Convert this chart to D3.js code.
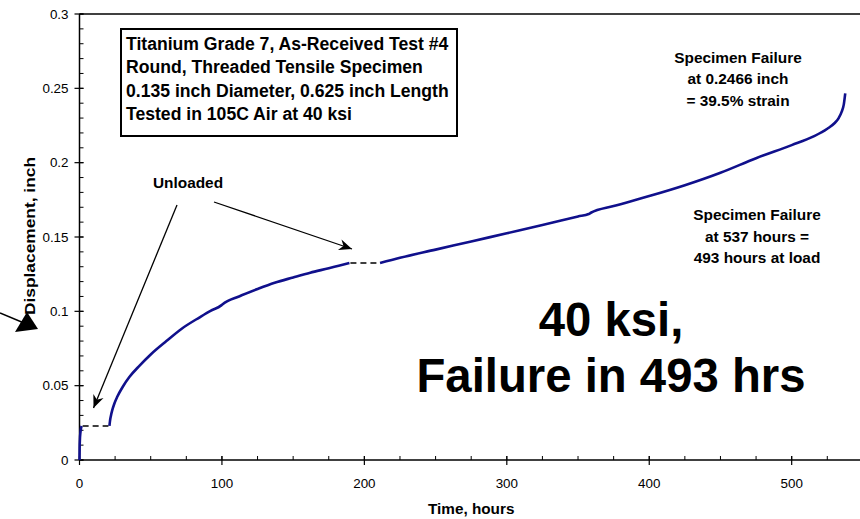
<!DOCTYPE html>
<html>
<head>
<meta charset="utf-8">
<script src="https://cdn.jsdelivr.net/npm/d3@7"></script>
<style>
  body { margin: 0; background: #fff; }
  svg { display: block; }
  text { font-family: "Liberation Sans", Arial, Helvetica, sans-serif; fill: #000; }
</style>
</head>
<body>
<svg id="chart" width="860" height="519"></svg>
<script>
// Creep test record: elapsed time (hours) vs. specimen displacement (inch).
// null marks the unloaded intervals, where the record is bridged by dashes.
const timeHours = [
  0, 0.1, 0.3, 0.6, 1.0, 1.5,
  null,
  21, 21.4, 22, 23, 24.5, 26.5, 30.4, 35, 42.2, 50, 61, 72, 84.4, 92, 99.5,
  100.5, 112, 125, 137, 150, 162, 175, 182, 189.5,
  null,
  211, 225, 250, 275, 300, 325, 350, 357.5,
  359, 375, 400, 425, 450, 475, 500, 515, 525, 530, 533, 535, 536.6, 537.6
];
const displacementIn = [
  0, 0.008, 0.014, 0.018, 0.021, 0.0229,
  null,
  0.0229, 0.0262, 0.0295, 0.0335, 0.0380, 0.0425, 0.0493, 0.0558, 0.0635, 0.0710, 0.0800, 0.0885, 0.0960, 0.1003, 0.1040,
  0.1048, 0.1100, 0.1150, 0.1192, 0.1228, 0.1260, 0.1290, 0.1307, 0.1325,
  null,
  0.1325, 0.1360, 0.1415, 0.1470, 0.1525, 0.1580, 0.1638, 0.1655,
  0.1663, 0.1708, 0.1775, 0.1848, 0.1932, 0.2030, 0.2118, 0.2175, 0.2228, 0.2265, 0.2300, 0.2340, 0.2392, 0.2466
];

// Unloaded intervals (start hour, end hour, held displacement)
const unloadStart = [1.5, 189.5];
const unloadEnd   = [21, 211];
const unloadDisp  = [0.0229, 0.1325];

// Axis ticks
const xMajorTicks = [0, 100, 200, 300, 400, 500];
const xMinorTicks = d3.range(0, 551, 25);
const yMajorTicks = [0, 0.05, 0.1, 0.15, 0.2, 0.25, 0.3];
const yMinorTicks = d3.range(0, 31).map(i => i / 100);

// Text
const infoLines = [
  "Titanium Grade 7, As-Received Test #4",
  "Round, Threaded Tensile Specimen",
  "0.135 inch Diameter, 0.625 inch Length",
  "Tested in 105C Air at 40 ksi"
];
const failDispLines = ["Specimen Failure", "at 0.2466 inch", "= 39.5% strain"];
const failTimeLines = ["Specimen Failure", "at 537 hours =", "493 hours at load"];
const headlineLines = ["40 ksi,", "Failure in 493 hrs"];

const svg = d3.select("#chart");

const x = d3.scaleLinear().domain([0, 550]).range([79.5, 862.9]);
const y = d3.scaleLinear().domain([0, 0.3]).range([460, 14]);

// --- frame: top border, y axis, x axis
svg.append("line").attr("x1", x(0)).attr("x2", x(550)).attr("y1", y(0.3)).attr("y2", y(0.3))
  .attr("stroke", "#000").attr("stroke-width", 1.5);
svg.append("line").attr("x1", x(0)).attr("x2", x(0)).attr("y1", y(0)).attr("y2", y(0.3))
  .attr("stroke", "#000").attr("stroke-width", 1.5);
svg.append("line").attr("x1", x(0)).attr("x2", x(550)).attr("y1", y(0)).attr("y2", y(0))
  .attr("stroke", "#000").attr("stroke-width", 1.5);

// minor ticks point inward, major ticks cross the axis
svg.append("g").selectAll("line").data(xMinorTicks).join("line")
  .attr("x1", d => x(d)).attr("x2", d => x(d))
  .attr("y1", y(0)).attr("y2", y(0) - 4)
  .attr("stroke", "#000").attr("stroke-width", 1);
svg.append("g").selectAll("line").data(xMajorTicks).join("line")
  .attr("x1", d => x(d)).attr("x2", d => x(d))
  .attr("y1", y(0) - 4).attr("y2", y(0) + 5)
  .attr("stroke", "#000").attr("stroke-width", 1.2);
svg.append("g").selectAll("text").data(xMajorTicks).join("text")
  .attr("x", d => x(d)).attr("y", 488)
  .attr("text-anchor", "middle").attr("font-size", 13.4)
  .text(d => d3.format("d")(d));

svg.append("g").selectAll("line").data(yMinorTicks).join("line")
  .attr("x1", x(0)).attr("x2", x(0) + 4)
  .attr("y1", d => y(d)).attr("y2", d => y(d))
  .attr("stroke", "#000").attr("stroke-width", 1);
svg.append("g").selectAll("line").data(yMajorTicks).join("line")
  .attr("x1", x(0) - 5).attr("x2", x(0) + 4)
  .attr("y1", d => y(d)).attr("y2", d => y(d))
  .attr("stroke", "#000").attr("stroke-width", 1.2);
svg.append("g").selectAll("text").data(yMajorTicks).join("text")
  .attr("x", 68.5).attr("y", d => y(d)).attr("dy", "0.36em")
  .attr("text-anchor", "end").attr("font-size", 13.4)
  .text(d => String(d));

// axis titles
svg.append("text").attr("x", x(275)).attr("y", 514)
  .attr("text-anchor", "middle").attr("font-size", 15.3).attr("font-weight", "bold")
  .text("Time, hours");
svg.append("text")
  .attr("transform", "translate(34.5,236) rotate(-90) scale(1.12,1)")
  .attr("text-anchor", "middle").attr("font-size", 15.5).attr("font-weight", "bold")
  .text("Displacement, inch");

// --- data curve
const pts = timeHours.map((t, i) => ({ t, d: displacementIn[i] }));
const line = d3.line()
  .defined(p => p.t != null && p.d != null)
  .x(p => x(p.t)).y(p => y(p.d))
  .curve(d3.curveMonotoneX);
svg.append("path").attr("d", line(pts))
  .attr("fill", "none").attr("stroke", "#10108c").attr("stroke-width", 2.6)
  .attr("stroke-linejoin", "round");

// dashed bridges over the unloaded intervals
svg.append("g").selectAll("line").data(unloadStart).join("line")
  .attr("x1", (d, i) => x(unloadStart[i]) + 1).attr("x2", (d, i) => x(unloadEnd[i]) - 1)
  .attr("y1", (d, i) => y(unloadDisp[i])).attr("y2", (d, i) => y(unloadDisp[i]))
  .attr("stroke", "#000").attr("stroke-width", 1.5).attr("stroke-dasharray", "6,4");

// --- annotations
const defs = svg.append("defs");
defs.append("marker").attr("id", "head")
  .attr("viewBox", "-14 -6 16 12").attr("refX", 0).attr("refY", 0)
  .attr("markerWidth", 16).attr("markerHeight", 12)
  .attr("markerUnits", "userSpaceOnUse").attr("orient", "auto")
  .append("path").attr("d", "M0,0 L-13,-5.5 L-9,0 L-13,5.5 Z").attr("fill", "#000");

svg.append("text").attr("x", 188).attr("y", 188)
  .attr("text-anchor", "middle").attr("font-size", 15.4).attr("font-weight", "bold")
  .text("Unloaded");
svg.append("line").attr("x1", 177).attr("y1", 205).attr("x2", 93.5).attr("y2", 408)
  .attr("stroke", "#000").attr("stroke-width", 1.3).attr("marker-end", "url(#head)");
svg.append("line").attr("x1", 214).attr("y1", 202).attr("x2", 352).attr("y2", 249)
  .attr("stroke", "#000").attr("stroke-width", 1.3).attr("marker-end", "url(#head)");

// pointer toward the axis title
svg.append("line").attr("x1", 0).attr("y1", 313).attr("x2", 24).attr("y2", 323)
  .attr("stroke", "#000").attr("stroke-width", 1.5);
svg.append("path").attr("d", "M38,329 L15,332 L27,312 Z").attr("fill", "#000");

// specimen information box
svg.append("rect").attr("x", 121).attr("y", 29).attr("width", 336).attr("height", 107)
  .attr("fill", "#fff").attr("stroke", "#000").attr("stroke-width", 2);
svg.append("g").selectAll("text").data(infoLines).join("text")
  .attr("x", 126).attr("y", (d, i) => 50 + i * 23.4)
  .attr("font-size", 17.6).attr("font-weight", "bold")
  .text(d => d);

svg.append("g").selectAll("text").data(failDispLines).join("text")
  .attr("x", 738).attr("y", (d, i) => 62.7 + i * 21.7)
  .attr("text-anchor", "middle").attr("font-size", 15.4).attr("font-weight", "bold")
  .text(d => d);
svg.append("g").selectAll("text").data(failTimeLines).join("text")
  .attr("x", 757).attr("y", (d, i) => 220 + i * 21.7)
  .attr("text-anchor", "middle").attr("font-size", 15.4).attr("font-weight", "bold")
  .text(d => d);
svg.append("g").selectAll("text").data(headlineLines).join("text")
  .attr("x", 611).attr("y", (d, i) => 335.7 + i * 56)
  .attr("text-anchor", "middle").attr("font-size", 47.3).attr("font-weight", "bold")
  .text(d => d);
</script>
</body>
</html>
